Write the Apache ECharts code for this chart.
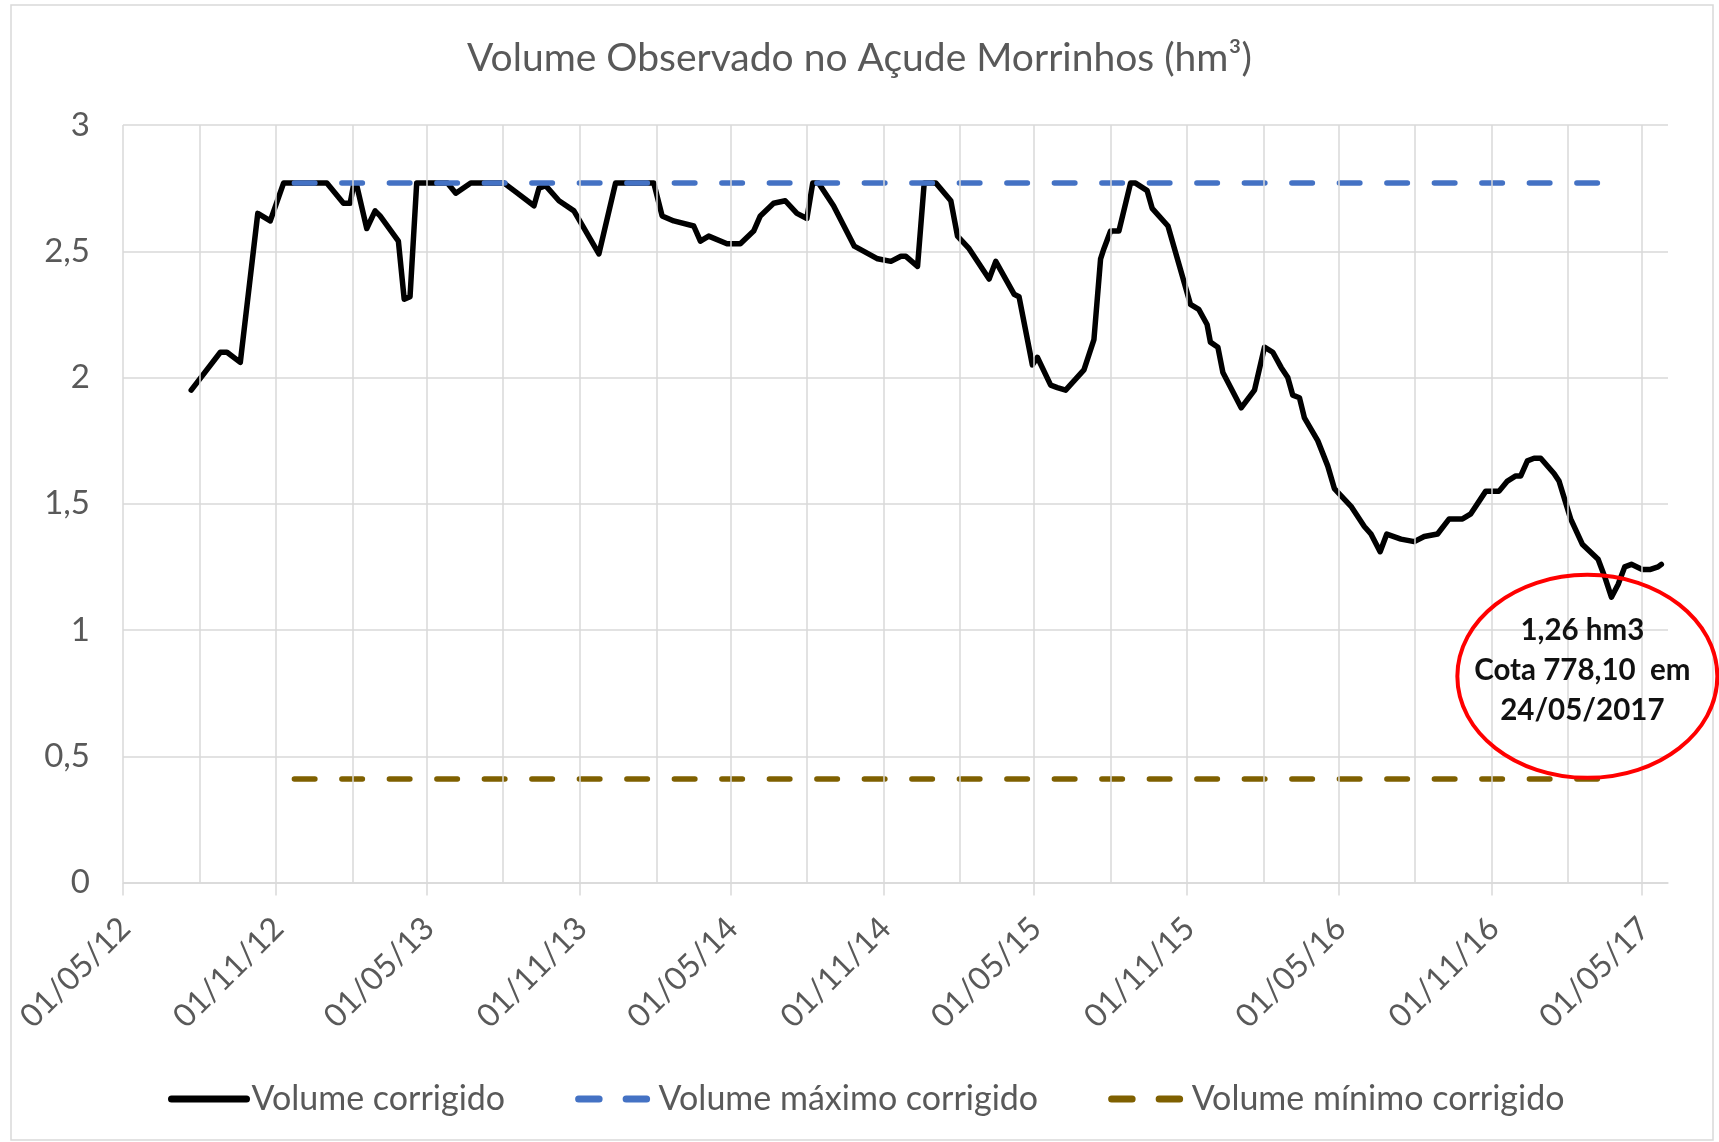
<!DOCTYPE html>
<html><head><meta charset="utf-8">
<script src="https://cdn.jsdelivr.net/npm/echarts@6/dist/echarts.min.js"></script>
<style>html,body{margin:0;padding:0;background:#fff}#c{width:1719px;height:1142px}</style>
</head><body><div id="c"></div>
<script>
// ---------- DATA ----------
const titleText = 'Volume Observado no Açude Morrinhos (hm³)';
const seriesNames = ['Volume corrigido', 'Volume máximo corrigido', 'Volume mínimo corrigido'];

const obsDates = [
'2012-07-22','2012-08-26','2012-09-03','2012-09-19','2012-10-10','2012-10-25','2012-11-10','2013-01-01','2013-01-21','2013-01-29',
'2013-02-02','2013-02-06','2013-02-18','2013-02-28','2013-03-06','2013-03-28','2013-04-04','2013-04-11','2013-04-19','2013-05-26',
'2013-06-05','2013-06-23','2013-08-02','2013-08-18','2013-09-07','2013-09-13','2013-09-21','2013-10-07','2013-10-25','2013-11-24',
'2013-12-14','2014-01-29','2014-02-08','2014-02-22','2014-03-18','2014-03-26','2014-04-05','2014-04-27','2014-05-13','2014-05-29',
'2014-06-06','2014-06-22','2014-07-06','2014-07-20','2014-08-01','2014-08-08','2014-08-15','2014-09-02','2014-09-27','2014-10-25',
'2014-11-10','2014-11-22','2014-11-28','2014-12-12','2014-12-20','2015-01-03','2015-01-21','2015-01-29','2015-02-12','2015-03-08',
'2015-03-16','2015-04-07','2015-04-13','2015-04-29','2015-05-05','2015-05-21','2015-05-29','2015-06-08','2015-06-30','2015-07-12',
'2015-07-20','2015-07-24','2015-08-01','2015-08-11','2015-08-25','2015-08-31','2015-09-14','2015-09-20','2015-10-09','2015-11-05',
'2015-11-15','2015-11-25','2015-11-29','2015-12-08','2015-12-14','2016-01-05','2016-01-21','2016-02-02','2016-02-12','2016-02-22',
'2016-03-01','2016-03-07','2016-03-15','2016-03-21','2016-04-06','2016-04-18','2016-04-26','2016-05-16','2016-06-01','2016-06-09',
'2016-06-20','2016-06-28','2016-07-15','2016-07-31','2016-08-12','2016-08-28','2016-09-11','2016-09-27','2016-10-07','2016-10-25',
'2016-11-10','2016-11-20','2016-11-30','2016-12-06','2016-12-14','2016-12-22','2016-12-30','2017-01-15','2017-01-21','2017-02-04',
'2017-02-18','2017-03-09','2017-03-17','2017-03-25','2017-04-02','2017-04-10','2017-04-18','2017-05-01','2017-05-11','2017-05-20',
'2017-05-24'];
const obsVolume = [
1.95,2.10,2.10,2.06,2.65,2.62,2.77,2.77,2.69,2.69,
2.76,2.76,2.59,2.66,2.64,2.54,2.31,2.32,2.77,2.77,
2.73,2.77,2.77,2.73,2.68,2.75,2.76,2.70,2.66,2.49,
2.77,2.77,2.64,2.62,2.60,2.54,2.56,2.53,2.53,2.58,
2.64,2.69,2.70,2.65,2.63,2.77,2.77,2.68,2.52,2.47,
2.46,2.48,2.48,2.44,2.77,2.77,2.70,2.56,2.51,2.39,
2.46,2.33,2.32,2.05,2.08,1.97,1.96,1.95,2.03,2.15,
2.47,2.51,2.58,2.58,2.77,2.77,2.74,2.67,2.60,2.29,
2.27,2.21,2.14,2.12,2.02,1.88,1.95,2.12,2.10,2.04,
2.00,1.93,1.92,1.84,1.75,1.65,1.56,1.49,1.41,1.38,
1.31,1.38,1.36,1.35,1.37,1.38,1.44,1.44,1.46,1.55,
1.55,1.59,1.61,1.61,1.67,1.68,1.68,1.62,1.59,1.44,
1.34,1.28,1.21,1.13,1.18,1.25,1.26,1.24,1.24,1.25,
1.26];

const refDates = ['2012-11-23', '2017-03-10'];
const maxVolume = [2.77, 2.77];
const minVolume = [0.41, 0.41];

const axisStart = '2012-05-01';
const axisEnd = '2017-06-01';
const labelDates = ['2012-05-01','2012-11-01','2013-05-01','2013-11-01','2014-05-01','2014-11-01',
                    '2015-05-01','2015-11-01','2016-05-01','2016-11-01','2017-05-01'];
const gridDates = ['2012-05-01','2012-08-01','2012-11-01','2013-02-01','2013-05-01','2013-08-01','2013-11-01',
                   '2014-02-01','2014-05-01','2014-08-01','2014-11-01','2015-02-01','2015-05-01','2015-08-01',
                   '2015-11-01','2016-02-01','2016-05-01','2016-08-01','2016-11-01','2017-02-01','2017-05-01'];
const yMin = 0, yMax = 3, yStep = 0.5;

const noteLines = ['1,26 hm3', 'Cota 778,10  em', '24/05/2017'];
const noteDate = '2017-05-24', noteValue = 1.26;

// ---------- CHART ----------
function ts(s) { const p = s.split('-').map(Number); return Date.UTC(p[0], p[1] - 1, p[2]); }
function pad(n) { return (n < 10 ? '0' : '') + n; }
function fmtDate(v) { const d = new Date(v); return pad(d.getUTCDate()) + '/' + pad(d.getUTCMonth() + 1) + '/' + pad(d.getUTCFullYear() % 100); }

const FONT = 'Lato, "Open Sans", sans-serif';
const GRID_COLOR = '#d9d9d9';
const TEXT_COLOR = '#595959';
const LINE_W = 5.5;

const chart = echarts.init(document.getElementById('c'), null, { renderer: 'canvas' });

const option = {
  animation: false,
  backgroundColor: '#fff',
  title: {
    text: titleText, left: 'center', top: 34,
    textStyle: { fontFamily: FONT, fontSize: 39, fontWeight: 'normal', color: TEXT_COLOR }
  },
  grid: { left: 123, right: 51, top: 125, bottom: 259.5 },
  legend: {
    data: seriesNames, left: 163, top: 1077, itemWidth: 75, itemHeight: 14, itemGap: 70,
    textStyle: { fontFamily: FONT, fontSize: 34, color: TEXT_COLOR },
    itemStyle: { opacity: 0 },
    lineStyle: { width: 7 }
  },
  xAxis: {
    type: 'value', min: ts(axisStart), max: ts(axisEnd), scale: true,
    axisLine: { show: true, onZero: false, lineStyle: { color: GRID_COLOR, width: 1.5 } },
    axisTick: { show: true, customValues: labelDates.map(ts), length: 13, lineStyle: { color: GRID_COLOR, width: 1.5 } },
    axisLabel: {
      customValues: labelDates.map(ts), formatter: fmtDate, rotate: 45, margin: 20, verticalAlign: 'top',
      padding: [0, 13, 0, 0],
      fontFamily: FONT, fontSize: 32, color: TEXT_COLOR
    },
    splitLine: { show: false }
  },
  yAxis: {
    type: 'value', min: yMin, max: yMax, interval: yStep,
    axisLine: { show: false }, axisTick: { show: false },
    axisLabel: { formatter: v => String(v).replace('.', ','), margin: 33, fontFamily: FONT, fontSize: 33, color: TEXT_COLOR },
    splitLine: { lineStyle: { color: GRID_COLOR, width: 1.5 } }
  },
  series: [
    {
      name: '_grid', type: 'line', data: [], silent: true, z: 1,
      markLine: {
        silent: true, symbol: ['none', 'none'], label: { show: false }, animation: false,
        lineStyle: { color: GRID_COLOR, width: 1.5, type: 'solid' },
        emphasis: { disabled: true },
        data: gridDates.map(d => ({ xAxis: ts(d) }))
      }
    },
    {
      name: seriesNames[0], type: 'line', showSymbol: false, symbol: 'none', z: 3,
      data: obsDates.map((d, i) => [ts(d), obsVolume[i]]),
      lineStyle: { color: '#000', width: LINE_W, join: 'round', cap: 'round' },
      itemStyle: { color: '#000' }
    },
    {
      name: seriesNames[1], type: 'line', showSymbol: false, symbol: 'none', z: 4,
      data: refDates.map((d, i) => [ts(d), maxVolume[i]]),
      lineStyle: { color: '#4472c4', width: LINE_W, type: [20.5, 27], cap: 'round' },
      itemStyle: { color: '#4472c4' }
    },
    {
      name: seriesNames[2], type: 'line', showSymbol: false, symbol: 'none', z: 4,
      data: refDates.map((d, i) => [ts(d), minVolume[i]]),
      lineStyle: { color: '#7f6000', width: LINE_W, type: [20.5, 27], cap: 'round' },
      itemStyle: { color: '#7f6000' }
    }
  ]
};
chart.setOption(option);

// annotation anchored to the last observation
const p = chart.convertToPixel({ seriesIndex: 1 }, [ts(noteDate), noteValue]);
const cx = p[0] - 74, cy = p[1] + 112;
chart.setOption({
  graphic: [
    { type: 'rect', z: 0, shape: { x: 11, y: 5, width: 1702, height: 1135 },
      style: { fill: 'none', stroke: GRID_COLOR, lineWidth: 1.5 }, silent: true },
    { type: 'ellipse', z: 100, shape: { cx: cx, cy: cy, rx: 130, ry: 101.5 },
      style: { fill: 'none', stroke: '#ff0000', lineWidth: 4 }, silent: true },
  ].concat(noteLines.map((t, i) => ({
    type: 'text', z: 101, x: cx - 5, y: cy - 46 + i * 40, silent: true,
    style: { text: t, fontFamily: FONT, fontSize: 29.5, fontWeight: 'bold', fill: '#111',
             align: 'center', verticalAlign: 'middle' }
  })))
});
</script></body></html>
